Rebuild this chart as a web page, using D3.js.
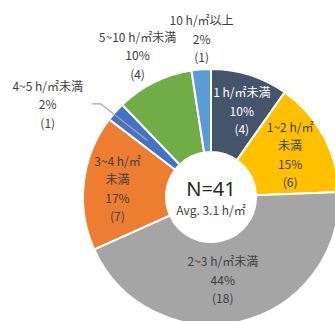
<!DOCTYPE html>
<html>
<head>
<meta charset="utf-8">
<script src="https://cdn.jsdelivr.net/npm/d3@7"></script>
<style>
  body { margin: 0; background: #fff; }
  text { font-family: "Noto Sans CJK JP", "Noto Sans", sans-serif; }
  text.big { font-family: "Noto Sans", sans-serif; }
</style>
</head>
<body>
<div class="canvas"></div>
<script>
// data
const categories = ['1 h/㎡未満', '1~2 h/㎡未満', '2~3 h/㎡未満', '3~4 h/㎡未満', '4~5 h/㎡未満', '5~10 h/㎡未満', '10 h/㎡以上']
const counts = [4, 6, 18, 7, 1, 4, 1]
const colours = ['#44546A', '#FFC000', '#A5A5A5', '#ED7D31', '#4472C4', '#70AD47', '#5B9BD5']
const avgLabel = 'Avg. 3.1 h/㎡'

const total = d3.sum(counts)

// label placement (radius, angle nudge in deg, wrap name after ㎡, text colour)
const labelCfg = [
    {r: 92, da: 2, wrap: false, fill: '#fff'},
    {r: 90, da: 0, wrap: true, fill: '#404040'},
    {r: 83, da: 5, wrap: false, fill: '#404040'},
    {r: 94, da: -1, wrap: true, fill: '#404040'},
    {r: 188, da: -12, wrap: false, fill: '#404040', leader: true},
    {r: 160, da: -1, wrap: false, fill: '#404040'},
    {r: 159, da: 1, wrap: false, fill: '#404040'}
]

const dims = {width: 335, height: 321, outer: 128, inner: 45}
const cent = {x: 211, y: 197}

const svg = d3.select('.canvas')
    .append('svg')
    .attr('width', dims.width)
    .attr('height', dims.height)

const graph = svg.append('g')
    .attr('transform', `translate(${cent.x}, ${cent.y})`)

const data = categories.map((name, i) => ({name, count: counts[i], colour: colours[i]}))

const pie = d3.pie()
    .sort(null)
    .value(d => d.count)

const arcs = pie(data)

const arcPath = d3.arc()
    .outerRadius(dims.outer)
    .innerRadius(dims.inner)

graph.selectAll('path')
    .data(arcs)
    .enter()
    .append('path')
    .attr('d', arcPath)
    .attr('fill', d => d.data.colour)
    .attr('stroke', '#fff')
    .attr('stroke-width', 2)

const polar = (r, a) => [r * Math.sin(a), -r * Math.cos(a)]
const lineH = 18.5

// leader lines
arcs.forEach((d, i) => {
    const cfg = labelCfg[i]
    if (!cfg.leader) return
    const mid = (d.startAngle + d.endAngle) / 2
    const [lx, ly] = polar(cfg.r, mid + cfg.da * Math.PI / 180)
    const end = polar(85, mid)
    const sx = lx + 44, sy = ly
    graph.append('path')
        .attr('d', d3.line()([[sx, sy], [sx + 9, sy], end]))
        .attr('fill', 'none')
        .attr('stroke', '#a6a6a6')
        .attr('stroke-width', 1.3)
})

// data labels
arcs.forEach((d, i) => {
    const cfg = labelCfg[i]
    const mid = (d.startAngle + d.endAngle) / 2
    const [x, y] = polar(cfg.r, mid + cfg.da * Math.PI / 180)
    const name = d.data.name
    let lines = []
    if (cfg.wrap) {
        const k = name.indexOf('㎡') + 1
        lines.push(name.slice(0, k), name.slice(k))
    } else {
        lines.push(name)
    }
    lines.push(`${Math.round(d.data.count / total * 100)}%`, `(${d.data.count})`)

    const t = graph.append('text')
        .attr('text-anchor', 'middle')
        .attr('font-size', 12)
        .attr('fill', cfg.fill)
    lines.forEach((s, j) => {
        t.append('tspan')
            .attr('x', x)
            .attr('y', y + (j - (lines.length - 1) / 2) * lineH)
            .attr('dominant-baseline', 'central')
            .text(s)
    })
})

// centre text
graph.append('text')
    .attr('class', 'big')
    .attr('text-anchor', 'middle')
    .attr('dominant-baseline', 'central')
    .attr('y', -9)
    .attr('font-size', 20)
    .attr('fill', '#262626')
    .text(`N=${total}`)

graph.append('text')
    .attr('text-anchor', 'middle')
    .attr('dominant-baseline', 'central')
    .attr('y', 12)
    .attr('font-size', 12)
    .attr('fill', '#404040')
    .text(avgLabel)
</script>
</body>
</html>
